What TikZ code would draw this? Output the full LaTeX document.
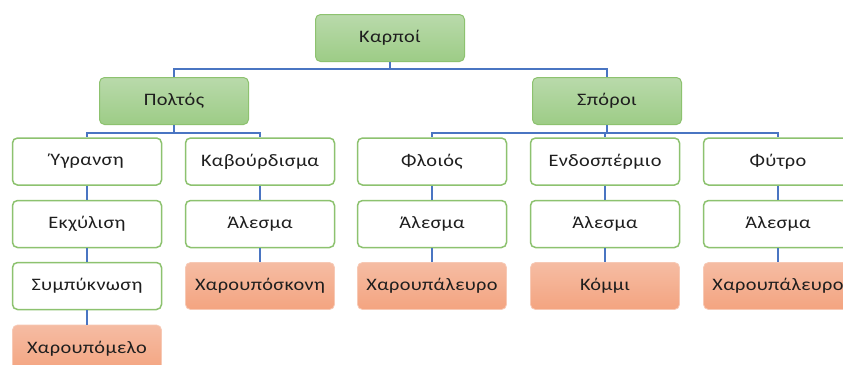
\documentclass[tikz,border=0pt]{standalone}
\usepackage{fontspec}
\setmainfont{Carlito}[FakeStretch=1.16, LetterSpace=2]
\definecolor{gtop}{HTML}{B9DAAB}
\definecolor{gbot}{HTML}{9DCC86}
\definecolor{gline}{HTML}{8DC26F}
\definecolor{otop}{HTML}{F5BCA3}
\definecolor{obot}{HTML}{F4A480}
\definecolor{blue}{HTML}{4A75C2}
\definecolor{txt}{HTML}{1E1E1E}
\tikzset{
  box/.style={rectangle, rounded corners=5pt, minimum width=149pt, minimum height=47pt,
    inner sep=0pt, font=\fontsize{17.5}{19}\selectfont, text=txt},
  greenbox/.style={box, draw=gline, line width=1pt, top color=gtop, bottom color=gbot},
  whitebox/.style={box, draw=gline, line width=1.5pt, fill=white},
  orangebox/.style={box, draw=otop!80!white, line width=0.8pt, top color=otop, bottom color=obot},
  link/.style={draw=blue, line width=1.4pt}
}
\begin{document}
\begin{tikzpicture}[x=1pt,y=-1pt]
\useasboundingbox (0,0) rectangle (843,364);
\clip (0,0) rectangle (843,364);
\fill[white] (0,0) rectangle (843,364);
% level 0 and 1
\node[greenbox] (k) at (390,38) {Καρποί};
\node[greenbox] (p) at (174,101) {Πολτός};
\node[greenbox] (s) at (607,101) {Σπόροι};
% columns
\node[whitebox] (a1) at (87,161.5) {Ύγρανση};
\node[whitebox] (a2) at (87,224) {Εκχύλιση};
\node[whitebox] (a3) at (87,286) {Συμπύκνωση};
\node[orangebox] (a4) at (87,348.5) {Χαρουπόμελο};
\node[whitebox] (b1) at (260,161.5) {Καβούρδισμα};
\node[whitebox] (b2) at (260,224) {Άλεσμα};
\node[orangebox] (b3) at (260,286) {Χαρουπόσκονη};
\node[whitebox] (c1) at (432,161.5) {Φλοιός};
\node[whitebox] (c2) at (432,224) {Άλεσμα};
\node[orangebox] (c3) at (432,286) {Χαρουπάλευρο};
\node[whitebox] (d1) at (605,161.5) {Ενδοσπέρμιο};
\node[whitebox] (d2) at (605,224) {Άλεσμα};
\node[orangebox] (d3) at (605,286) {Κόμμι};
\node[whitebox] (e1) at (778,161.5) {Φύτρο};
\node[whitebox] (e2) at (778,224) {Άλεσμα};
\node[orangebox] (e3) at (778,286) {Χαρουπάλευρο};
% connectors
\path[link] (k.south) -- ++(0,7) -| (p.north);
\path[link] (k.south) -- ++(0,7) -| (s.north);
\path[link] (p.south) -- ++(0,8) -| (a1.north);
\path[link] (p.south) -- ++(0,8) -| (b1.north);
\path[link] (s.south) -- ++(0,8) -| (c1.north);
\path[link] (s.south) -- ++(0,8) -| (d1.north);
\path[link] (s.south) -- ++(0,8) -| (e1.north);
\path[link] (a1) -- (a2);
\path[link] (a2) -- (a3);
\path[link] (a3) -- (a4);
\path[link] (b1) -- (b2);
\path[link] (b2) -- (b3);
\path[link] (c1) -- (c2);
\path[link] (c2) -- (c3);
\path[link] (d1) -- (d2);
\path[link] (d2) -- (d3);
\path[link] (e1) -- (e2);
\path[link] (e2) -- (e3);
\end{tikzpicture}
\end{document}
